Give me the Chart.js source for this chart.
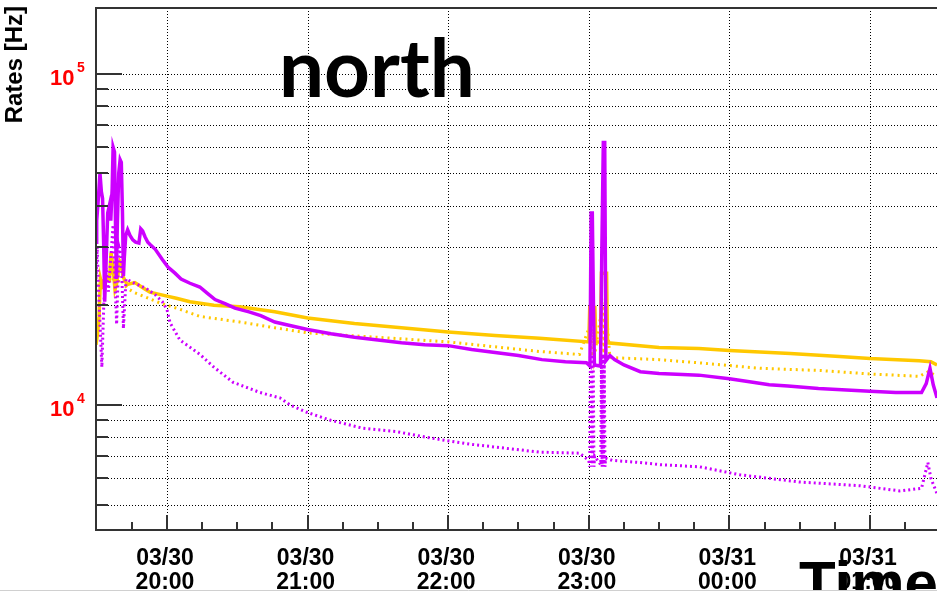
<!DOCTYPE html>
<html>
<head>
<meta charset="utf-8">
<script src="https://cdn.jsdelivr.net/npm/chart.js@4.4.0/dist/chart.umd.min.js"></script>
<style>
  html, body { margin: 0; padding: 0; background: #fff; }
  #c { display: block; }
</style>
</head>
<body>
<canvas id="c" width="937" height="597"></canvas>
<script>
// time is in minutes after 03/30 20:00
var magSolidT = [-30.3, -30.0, -29.3, -28.6, -28.0, -27.5, -27.0, -26.6, -26.0, -25.3, -24.6, -24.0, -23.4, -23.0, -22.4, -22.0, -21.6, -21.2, -20.6, -20.0, -19.5, -19.0, -18.6, -18.2, -17.6, -16.8, -15.8, -14.6, -13.4, -12.0, -11.2, -10.4, -9.4, -8.2, -7.0, -5.0, -2.0, 0.4, 3.4, 6, 9.8, 14, 17, 20.5, 25, 29, 35, 40, 46, 52, 60, 70, 80, 90, 100, 110, 120, 130, 140, 150, 160, 170, 179, 180.5, 181.0, 181.5, 182.0, 182.4, 185.0, 185.5, 186.2, 186.8, 187.3, 189, 191, 195, 202, 210, 220, 227, 240, 250, 257, 265, 278, 290, 300, 311, 322, 324, 325.6, 327, 328.6];
var magSolidV = [31000, 36000, 42000, 50000, 44000, 42000, 30000, 20500, 27000, 38000, 40000, 36000, 45000, 60000, 58000, 36000, 24000, 35000, 50000, 55000, 54000, 38000, 24500, 28000, 32500, 33800, 32500, 31500, 31000, 30800, 34000, 33500, 32200, 31000, 30400, 29500, 27500, 26100, 25000, 24000, 23300, 22700, 21800, 20800, 20200, 19600, 19100, 18600, 17800, 17400, 16900, 16400, 16000, 15700, 15400, 15200, 15100, 14700, 14400, 14100, 13700, 13500, 13400, 13100, 38000, 38000, 20000, 13200, 13100, 27000, 62000, 62000, 13600, 14100, 13700, 13200, 12600, 12450, 12350, 12300, 12000, 11700, 11500, 11400, 11200, 11100, 11000, 10900, 10900, 11600, 12900, 11500, 10500];

var yelSolidT = [-30.3, -29.6, -29.0, -28.4, -27.6, -26.6, -25.6, -24.5, -23.9, -23.0, -22.2, -21.6, -20.1, -19.3, -18.8, -17.0, -13.7, -10, -7.3, 0, 4, 9.8, 20, 31, 46, 60, 80, 100, 120, 140, 159, 180, 180.4, 182.6, 183.0, 185.0, 185.4, 187.6, 188.0, 210, 227, 240, 266, 287, 300, 321, 326, 328.6];
var yelSolidV = [15200, 16500, 18500, 24000, 22700, 23000, 24400, 24000, 28800, 26000, 22300, 23000, 27100, 26500, 24400, 23100, 23400, 22500, 21900, 21300, 21000, 20500, 20000, 19800, 19100, 18300, 17600, 17100, 16600, 16200, 15900, 15500, 19700, 19700, 15500, 15500, 25000, 25000, 15400, 14900, 14800, 14600, 14300, 14000, 13800, 13600, 13500, 13200];

var yelDotT = [-30.3, -28.6, -26, -24, -22, -20, -17, -13.7, -9.4, -3, 5, 14.1, 31, 46, 60, 90, 120, 159, 176, 180.6, 181.2, 181.8, 182.4, 185.8, 186.4, 187.0, 189, 210, 227, 253, 279, 300, 321, 325, 328.6];
var yelDotV = [22000, 23500, 24000, 25000, 23000, 24000, 22500, 21800, 21200, 20300, 19500, 18500, 17800, 17100, 16500, 16000, 15500, 14500, 14200, 17500, 14000, 17000, 14000, 20000, 14000, 21000, 13900, 13700, 13400, 12900, 12700, 12400, 12200, 12600, 12200];

var magDotT = [-30.3, -29.8, -29.2, -28.5, -27.8, -27.0, -26.0, -25.0, -23.0, -22.2, -21.5, -20.5, -19.5, -18.6, -17.5, -15, -12, -9, -5, -2, 0, 1.3, 5.5, 14.1, 20, 28.2, 39.7, 48.2, 52.5, 59.7, 69.5, 83.6, 98.1, 112.2, 119.5, 130.1, 159, 176, 180, 180.4, 180.7, 181.0, 181.3, 181.6, 181.9, 182.2, 182.5, 185.1, 185.4, 185.7, 186.0, 186.3, 186.6, 186.9, 187.2, 190, 201.8, 210.4, 227.4, 244.5, 270, 295.7, 312.8, 322, 324.7, 326, 328.6];
var magDotV = [24000, 30000, 22000, 17000, 13000, 20000, 26000, 22000, 35000, 24000, 17500, 30000, 28000, 17000, 24000, 23500, 23000, 22500, 21500, 20500, 19400, 17700, 15700, 14200, 13000, 11700, 10900, 10500, 10000, 9500, 9000, 8500, 8300, 7950, 7800, 7600, 7200, 7150, 6800, 6500, 14200, 6500, 14200, 6500, 14000, 6500, 7000, 6600, 14200, 6500, 14300, 6500, 14200, 6500, 6900, 6800, 6700, 6600, 6500, 6150, 5850, 5700, 5500, 5600, 6700, 6000, 5400];

// axis ticks
var hourTicks = [0, 60, 120, 180, 240, 300];
var hourLabels = [['03/30', '20:00'], ['03/30', '21:00'], ['03/30', '22:00'], ['03/30', '23:00'], ['03/31', '00:00'], ['03/31', '01:00']];
var yMajor = [1e4, 1e5];
var yMinor = [5000, 6000, 7000, 8000, 9000, 20000, 30000, 40000, 50000, 60000, 70000, 80000, 90000];
var yLabelExp = ['4', '5'];

var magenta = '#cc00ff';
var yellow = '#ffc800';

function pts(t, v) {
  return t.map(function(x, i) { return { x: x, y: v[i] }; });
}

var rootFrame = {
  id: 'rootFrame',
  beforeDatasetsDraw: function(chart) {
    var ctx = chart.ctx, a = chart.chartArea;
    var xs = chart.scales.x, ys = chart.scales.y;
    ctx.save();
    ctx.strokeStyle = '#000';
    ctx.lineWidth = 1;
    ctx.setLineDash([1, 2]);
    yMajor.concat(yMinor).forEach(function(v) {
      var y = Math.round(ys.getPixelForValue(v)) + 0.5;
      ctx.beginPath(); ctx.moveTo(a.left, y); ctx.lineTo(a.right, y); ctx.stroke();
    });
    hourTicks.forEach(function(t) {
      var x = Math.round(xs.getPixelForValue(t)) + 0.5;
      ctx.beginPath(); ctx.moveTo(x, a.top); ctx.lineTo(x, a.bottom); ctx.stroke();
    });
    ctx.restore();
  },
  afterDatasetsDraw: function(chart) {
    var ctx = chart.ctx, a = chart.chartArea;
    var xs = chart.scales.x, ys = chart.scales.y;
    ctx.save();
    ctx.setLineDash([]);
    ctx.strokeStyle = '#333';
    ctx.lineWidth = 2;
    ctx.beginPath();
    ctx.moveTo(a.right + 5, a.top); ctx.lineTo(a.left, a.top);
    ctx.lineTo(a.left, a.bottom); ctx.lineTo(a.right + 5, a.bottom);
    ctx.stroke();

    // y ticks
    yMajor.forEach(function(v) {
      var y = Math.round(ys.getPixelForValue(v));
      ctx.beginPath(); ctx.moveTo(a.left, y); ctx.lineTo(a.left + 26, y); ctx.stroke();
    });
    yMinor.forEach(function(v) {
      var y = Math.round(ys.getPixelForValue(v));
      ctx.beginPath(); ctx.moveTo(a.left, y); ctx.lineTo(a.left + 12, y); ctx.stroke();
    });
    // x ticks, every 15 minutes
    for (var t = -15; t <= xs.max; t += 15) {
      var x = Math.round(xs.getPixelForValue(t));
      var len = (t % 60 === 0) ? 15 : 8;
      ctx.beginPath(); ctx.moveTo(x, a.bottom); ctx.lineTo(x, a.bottom - len); ctx.stroke();
    }

    // y labels
    ctx.fillStyle = '#ff0000';
    yMajor.forEach(function(v, i) {
      var y = ys.getPixelForValue(v);
      ctx.font = 'bold 22px "Liberation Sans", Arial, sans-serif';
      ctx.textAlign = 'left';
      ctx.textBaseline = 'alphabetic';
      ctx.fillText('10', 50, y + 11);
      ctx.font = 'bold 14px "Liberation Sans", Arial, sans-serif';
      ctx.fillText(yLabelExp[i], 77, y - 2);
    });

    // x labels
    ctx.fillStyle = '#000';
    ctx.font = 'bold 23px "Liberation Sans", Arial, sans-serif';
    ctx.textAlign = 'center';
    hourTicks.forEach(function(t, i) {
      var x = xs.getPixelForValue(t) - 2;
      ctx.fillText(hourLabels[i][0], x, 565);
      ctx.fillText(hourLabels[i][1], x, 589);
    });

    // axis titles
    ctx.save();
    ctx.beginPath(); ctx.rect(0, 0, 937, 590); ctx.clip();
    ctx.font = 'bold 60px "Liberation Sans", Arial, sans-serif';
    ctx.textAlign = 'left';
    ctx.fillText('Time', 799, 603);
    ctx.restore();

    ctx.save();
    ctx.translate(22, 6);
    ctx.rotate(-Math.PI / 2);
    ctx.font = 'bold 24px "Liberation Sans", Arial, sans-serif';
    ctx.textAlign = 'right';
    ctx.fillText('Rates [Hz]', 0, 0);
    ctx.restore();

    ctx.font = 'bold 80px Lato, "Noto Sans", sans-serif';
    ctx.textAlign = 'left';
    ctx.fillText('north', 279, 97);

    ctx.fillStyle = '#fff';
    ctx.fillRect(0, 591, 937, 6);
    ctx.strokeStyle = '#d0d0d0';
    ctx.lineWidth = 1;
    ctx.beginPath(); ctx.moveTo(0, 590.5); ctx.lineTo(937, 590.5); ctx.stroke();
    ctx.restore();
  }
};

new Chart(document.getElementById('c').getContext('2d'), {
  type: 'line',
  data: {
    datasets: [
      { data: pts(magSolidT, magSolidV), borderColor: magenta, borderWidth: 3.5, order: 0 },
      { data: pts(magDotT, magDotV), borderColor: magenta, borderWidth: 3, borderDash: [2, 3], order: 1 },
      { data: pts(yelSolidT, yelSolidV), borderColor: yellow, borderWidth: 3.5, order: 2 },
      { data: pts(yelDotT, yelDotV), borderColor: yellow, borderWidth: 3, borderDash: [2, 4], order: 3 }
    ]
  },
  options: {
    responsive: false,
    animation: false,
    devicePixelRatio: 1,
    layout: { padding: { top: 8, left: 0, right: 0, bottom: 0 } },
    elements: { point: { radius: 0 }, line: { tension: 0, fill: false } },
    plugins: { legend: { display: false }, tooltip: { enabled: false } },
    scales: {
      x: {
        type: 'linear', min: -30.3, max: 328.6,
        ticks: { display: false }, grid: { display: false }, border: { display: false },
        afterFit: function(s) { s.height = 67; }
      },
      y: {
        type: 'logarithmic', min: 4190, max: 158000,
        ticks: { display: false }, grid: { display: false }, border: { display: false },
        afterFit: function(s) { s.width = 96; }
      }
    }
  },
  plugins: [rootFrame]
});
</script>
</body>
</html>
